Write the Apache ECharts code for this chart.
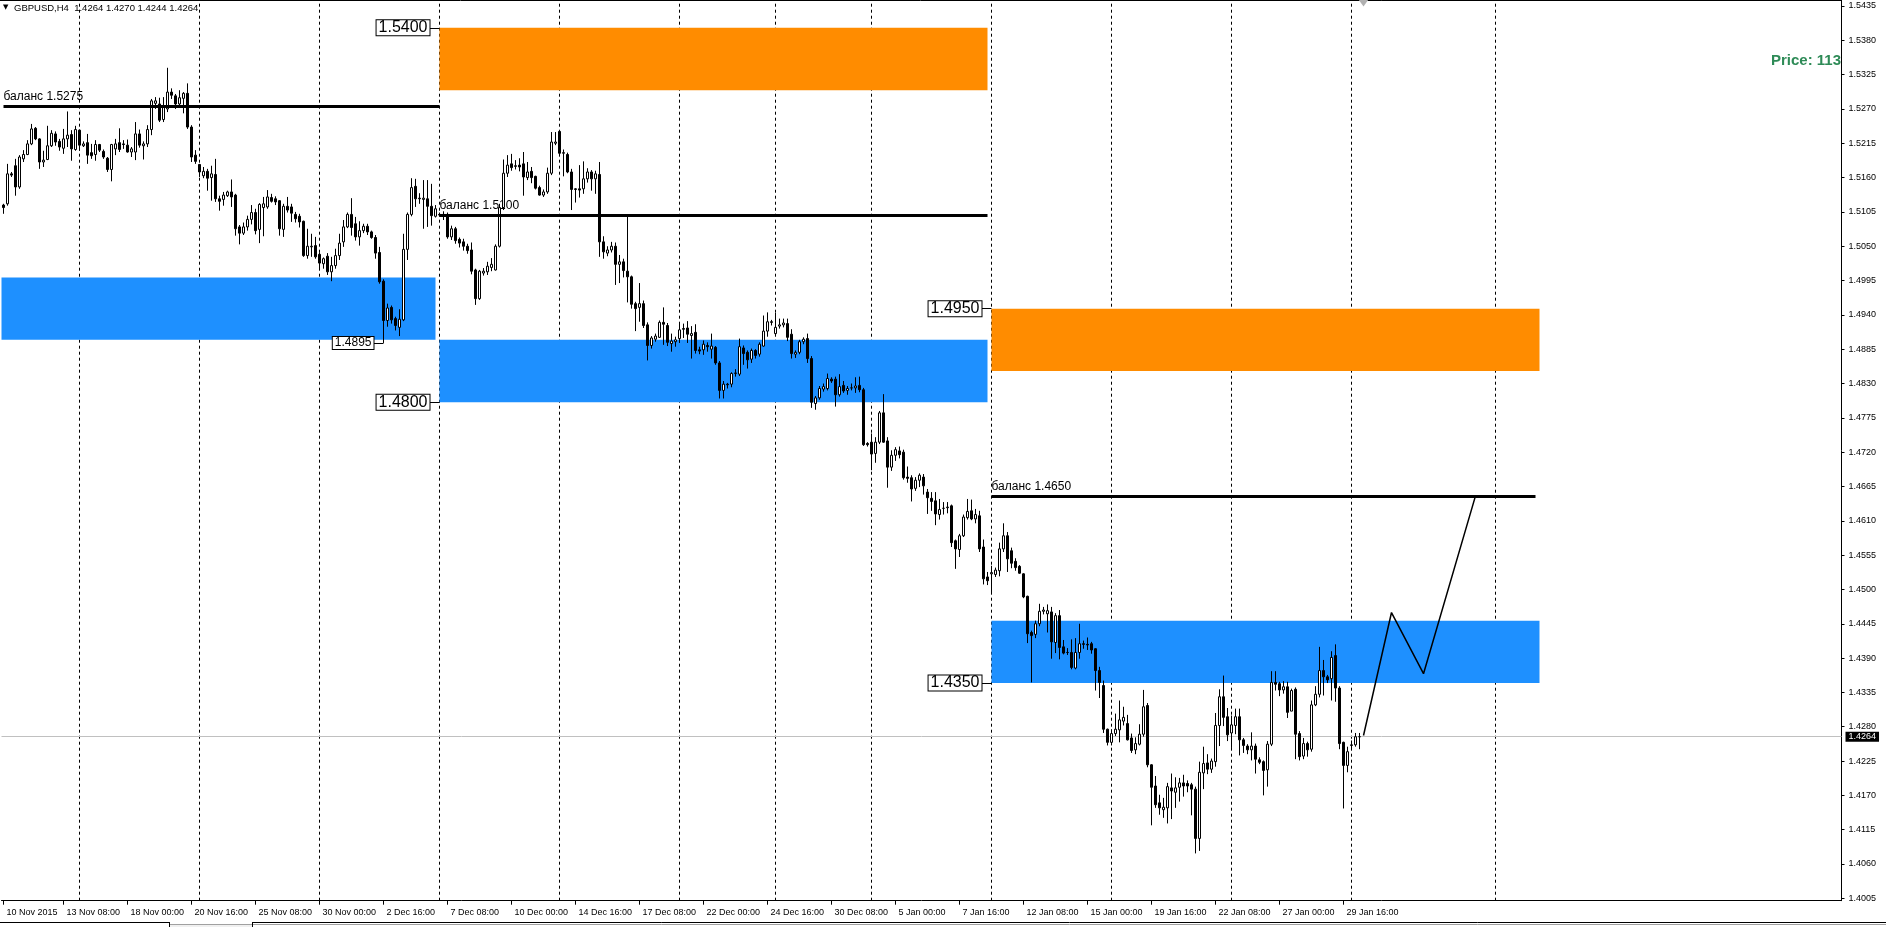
<!DOCTYPE html>
<html><head><meta charset="utf-8">
<script src="https://cdn.jsdelivr.net/npm/echarts@6/dist/echarts.min.js"></script>
<style>html,body{margin:0;padding:0;background:#fff}#c{width:1886px;height:927px}</style>
</head><body><div id="c"></div><script>
const FONT = '"Liberation Sans", Arial, sans-serif';
const Y_MIN = 1.40012, Y_MAX = 1.54446;
const yTicks = [1.4005,1.4060,1.4115,1.4170,1.4225,1.4280,1.4335,1.4390,1.4445,1.4500,1.4555,1.4610,1.4665,1.4720,1.4775,1.4830,1.4885,1.4940,1.4995,1.5050,1.5105,1.5160,1.5215,1.5270,1.5325,1.5380,1.5435];

const days = ['10 Nov','11 Nov','12 Nov','13 Nov','16 Nov','17 Nov','18 Nov','19 Nov','20 Nov','23 Nov','24 Nov','25 Nov','26 Nov','27 Nov','30 Nov','1 Dec','2 Dec','3 Dec','4 Dec','7 Dec','8 Dec','9 Dec','10 Dec','11 Dec','14 Dec','15 Dec','16 Dec','17 Dec','18 Dec','21 Dec','22 Dec','23 Dec','24 Dec','28 Dec','29 Dec','30 Dec','31 Dec','4 Jan','5 Jan','6 Jan','7 Jan','8 Jan','11 Jan','12 Jan','13 Jan','14 Jan','15 Jan','18 Jan','19 Jan','20 Jan','21 Jan','22 Jan','25 Jan','26 Jan','27 Jan','28 Jan','29 Jan','1 Feb'];
const hours = ['00:00','04:00','08:00','12:00','16:00','20:00'];
const FUTURE_BARS = 120;

const xTickCats = ['10 Nov 20:00','13 Nov 08:00','18 Nov 00:00','20 Nov 16:00','25 Nov 08:00','30 Nov 00:00','2 Dec 16:00','7 Dec 08:00','10 Dec 00:00','14 Dec 16:00','17 Dec 08:00','22 Dec 00:00','24 Dec 16:00','30 Dec 08:00','5 Jan 00:00','7 Jan 16:00','12 Jan 08:00','15 Jan 00:00','19 Jan 16:00','22 Jan 08:00','27 Jan 00:00','29 Jan 16:00'];
const xTickLabels = ['10 Nov 2015','13 Nov 08:00','18 Nov 00:00','20 Nov 16:00','25 Nov 08:00','30 Nov 00:00','2 Dec 16:00','7 Dec 08:00','10 Dec 00:00','14 Dec 16:00','17 Dec 08:00','22 Dec 00:00','24 Dec 16:00','30 Dec 08:00','5 Jan 00:00','7 Jan 16:00','12 Jan 08:00','15 Jan 00:00','19 Jan 16:00','22 Jan 08:00','27 Jan 00:00','29 Jan 16:00'];
const weekGridCats = ['16 Nov 00:00','23 Nov 00:00','30 Nov 00:00','7 Dec 00:00','14 Dec 00:00','21 Dec 00:00','28 Dec 00:00','4 Jan 00:00','11 Jan 00:00','18 Jan 00:00','25 Jan 00:00','1 Feb 00:00','+34'];

// [open, close, low, high]
const nov10 = [[1.5116,1.5112,1.5102,1.5118],[1.5118,1.5166,1.5115,1.5182],[1.5166,1.5164,1.5161,1.5169],[1.5179,1.5145,1.5131,1.5190],[1.5145,1.5193,1.5142,1.5196],[1.5190,1.5197,1.5185,1.5204],[1.5197,1.5214,1.5196,1.5220],[1.5214,1.5238,1.5212,1.5246],[1.5239,1.5222,1.5220,1.5241],[1.5222,1.5185,1.5174,1.5223],[1.5185,1.5188,1.5177,1.5203],[1.5189,1.5211,1.5188,1.5243],[1.5211,1.5231,1.5209,1.5236],[1.5230,1.5217,1.5211,1.5234],[1.5218,1.5209,1.5203,1.5222],[1.5207,1.5222,1.5198,1.5238],[1.5222,1.5228,1.5209,1.5266],[1.5229,1.5206,1.5187,1.5236],[1.5205,1.5237,1.5203,1.5243]];
const nov16 = [[1.5236,1.5212,1.5203,1.5237],[1.5211,1.5214,1.5209,1.5218],[1.5216,1.5196,1.5182,1.5230],[1.5200,1.5195,1.5190,1.5214],[1.5197,1.5213,1.5187,1.5220],[1.5213,1.5204,1.5201,1.5214],[1.5202,1.5193,1.5190,1.5205],[1.5191,1.5173,1.5169,1.5193],[1.5173,1.5213,1.5154,1.5214],[1.5206,1.5214,1.5196,1.5222],[1.5216,1.5205,1.5201,1.5239],[1.5214,1.5213,1.5206,1.5220],[1.5212,1.5201,1.5200,1.5221],[1.5201,1.5206,1.5193,1.5209],[1.5201,1.5230,1.5188,1.5249],[1.5230,1.5212,1.5208,1.5237],[1.5211,1.5214,1.5189,1.5218],[1.5214,1.5237,1.5209,1.5244],[1.5237,1.5283,1.5228,1.5286],[1.5279,1.5283,1.5270,1.5289],[1.5278,1.5252,1.5249,1.5288],[1.5253,1.5275,1.5249,1.5289],[1.5270,1.5297,1.5265,1.5336],[1.5297,1.5292,1.5286,1.5303],[1.5291,1.5278,1.5270,1.5294],[1.5278,1.5288,1.5276,1.5300],[1.5287,1.5295,1.5263,1.5297],[1.5295,1.5241,1.5238,1.5311],[1.5241,1.5193,1.5185,1.5244],[1.5196,1.5186,1.5182,1.5204]];
const nov23 = [[1.5181,1.5169,1.5161,1.5182],[1.5163,1.5170,1.5159,1.5177],[1.5170,1.5159,1.5139,1.5174],[1.5160,1.5166,1.5123,1.5179],[1.5165,1.5126,1.5121,1.5190],[1.5126,1.5122,1.5107,1.5131],[1.5125,1.5132,1.5115,1.5137],[1.5131,1.5137,1.5129,1.5139],[1.5137,1.5129,1.5113,1.5157],[1.5132,1.5078,1.5067,1.5134],[1.5081,1.5071,1.5053,1.5084],[1.5071,1.5081,1.5068,1.5088],[1.5081,1.5093,1.5075,1.5099],[1.5093,1.5104,1.5085,1.5116],[1.5104,1.5075,1.5069,1.5110],[1.5077,1.5117,1.5055,1.5119],[1.5112,1.5118,1.5066,1.5129],[1.5113,1.5129,1.5110,1.5140],[1.5128,1.5122,1.5120,1.5134],[1.5126,1.5121,1.5116,1.5130],[1.5123,1.5078,1.5067,1.5124],[1.5077,1.5114,1.5065,1.5118],[1.5114,1.5108,1.5104,1.5129],[1.5113,1.5103,1.5089,1.5118],[1.5101,1.5094,1.5088,1.5105],[1.5098,1.5089,1.5080,1.5102],[1.5090,1.5035,1.5033,1.5091],[1.5035,1.5050,1.5030,1.5078],[1.5049,1.5050,1.5033,1.5070],[1.5051,1.5033,1.5030,1.5065]];
const nov30 = [[1.5037,1.5023,1.5012,1.5040],[1.5022,1.5030,1.5014,1.5032],[1.5034,1.5009,1.5004,1.5039],[1.5009,1.5019,1.4994,1.5033],[1.5019,1.5035,1.5014,1.5046],[1.5035,1.5055,1.5028,1.5070],[1.5057,1.5081,1.5049,1.5092],[1.5081,1.5101,1.5079,1.5104],[1.5101,1.5080,1.5067,1.5127],[1.5086,1.5065,1.5059,1.5097],[1.5065,1.5075,1.5051,1.5090],[1.5075,1.5082,1.5071,1.5086],[1.5082,1.5073,1.5068,1.5086],[1.5073,1.5064,1.5062,1.5075],[1.5064,1.5039,1.5030,1.5068],[1.5040,1.4993,1.4990,1.5049],[1.4994,1.4931,1.4895,1.4997],[1.4931,1.4951,1.4921,1.4958],[1.4952,1.4932,1.4926,1.4955],[1.4934,1.4923,1.4915,1.4937],[1.4920,1.4933,1.4906,1.4949],[1.4932,1.5045,1.4930,1.5070],[1.5045,1.5101,1.5028,1.5104],[1.5101,1.5144,1.5098,1.5159],[1.5146,1.5126,1.5113,1.5158],[1.5127,1.5126,1.5118,1.5135],[1.5125,1.5127,1.5078,1.5156],[1.5126,1.5114,1.5081,1.5156],[1.5114,1.5099,1.5083,1.5150],[1.5098,1.5110,1.5096,1.5116]];
const dec07 = [[1.5101,1.5100,1.5098,1.5104],[1.5101,1.5099,1.5092,1.5106],[1.5101,1.5065,1.5062,1.5104],[1.5065,1.5078,1.5060,1.5083],[1.5078,1.5059,1.5054,1.5081],[1.5061,1.5055,1.5048,1.5064],[1.5057,1.5050,1.5043,1.5062],[1.5050,1.5043,1.5038,1.5054],[1.5044,1.5010,1.5005,1.5056],[1.5012,1.4966,1.4956,1.5014],[1.4966,1.5010,1.4964,1.5012],[1.5007,1.5010,1.5003,1.5015],[1.5009,1.5018,1.5004,1.5025],[1.5016,1.5021,1.5010,1.5031],[1.5012,1.5050,1.5011,1.5053],[1.5050,1.5112,1.5048,1.5118],[1.5112,1.5167,1.5108,1.5189],[1.5167,1.5180,1.5161,1.5196],[1.5182,1.5176,1.5171,1.5198],[1.5179,1.5178,1.5173,1.5188],[1.5180,1.5177,1.5170,1.5191],[1.5182,1.5161,1.5131,1.5201],[1.5160,1.5169,1.5156,1.5185],[1.5170,1.5160,1.5151,1.5177],[1.5162,1.5143,1.5141,1.5163],[1.5144,1.5132,1.5131,1.5147],[1.5132,1.5137,1.5129,1.5141],[1.5137,1.5167,1.5134,1.5176],[1.5167,1.5217,1.5164,1.5233],[1.5215,1.5217,1.5212,1.5233]];
const dec14 = [[1.5234,1.5199,1.5196,1.5236],[1.5199,1.5200,1.5162,1.5205],[1.5197,1.5169,1.5167,1.5200],[1.5169,1.5141,1.5108,1.5174],[1.5142,1.5141,1.5120,1.5143],[1.5142,1.5140,1.5128,1.5180],[1.5142,1.5158,1.5134,1.5186],[1.5158,1.5169,1.5152,1.5175],[1.5169,1.5158,1.5139,1.5172],[1.5158,1.5166,1.5134,1.5171],[1.5165,1.5057,1.5033,1.5185],[1.5057,1.5041,1.5030,1.5066],[1.5039,1.5044,1.5034,1.5050],[1.5044,1.5050,1.5040,1.5057],[1.5050,1.5021,1.4988,1.5056],[1.5021,1.5025,1.4991,1.5036],[1.5025,1.5011,1.5000,1.5030],[1.5010,1.5001,1.4960,1.5101],[1.5001,1.4957,1.4950,1.5003],[1.4958,1.4950,1.4914,1.4961],[1.4952,1.4958,1.4929,1.4991],[1.4958,1.4923,1.4919,1.4963],[1.4924,1.4891,1.4867,1.4928],[1.4891,1.4903,1.4886,1.4906],[1.4901,1.4906,1.4897,1.4910],[1.4904,1.4928,1.4903,1.4931],[1.4928,1.4925,1.4892,1.4952],[1.4923,1.4896,1.4890,1.4927],[1.4894,1.4898,1.4881,1.4910],[1.4897,1.4900,1.4889,1.4905]];
const dec21 = [[1.4902,1.4916,1.4895,1.4928],[1.4918,1.4917,1.4903,1.4926],[1.4919,1.4909,1.4895,1.4930],[1.4907,1.4910,1.4870,1.4922],[1.4912,1.4883,1.4878,1.4925],[1.4884,1.4882,1.4877,1.4889],[1.4884,1.4893,1.4876,1.4899],[1.4891,1.4889,1.4881,1.4896],[1.4885,1.4890,1.4870,1.4910],[1.4888,1.4863,1.4860,1.4890],[1.4863,1.4819,1.4806,1.4866],[1.4819,1.4829,1.4806,1.4834],[1.4829,1.4828,1.4822,1.4831],[1.4829,1.4846,1.4824,1.4848],[1.4846,1.4847,1.4841,1.4853],[1.4845,1.4889,1.4842,1.4902],[1.4887,1.4878,1.4860,1.4891],[1.4880,1.4868,1.4854,1.4883],[1.4869,1.4883,1.4863,1.4886],[1.4883,1.4875,1.4870,1.4885],[1.4877,1.4893,1.4873,1.4896],[1.4890,1.4914,1.4889,1.4939],[1.4914,1.4929,1.4905,1.4944],[1.4929,1.4928,1.4923,1.4932]];
const dec28 = [[1.4910,1.4920,1.4906,1.4943],[1.4922,1.4924,1.4918,1.4934],[1.4924,1.4927,1.4920,1.4934],[1.4926,1.4904,1.4898,1.4934],[1.4909,1.4878,1.4870,1.4917],[1.4877,1.4880,1.4871,1.4883],[1.4880,1.4897,1.4877,1.4900],[1.4897,1.4901,1.4893,1.4904],[1.4902,1.4870,1.4863,1.4910],[1.4870,1.4800,1.4791,1.4874],[1.4798,1.4807,1.4788,1.4810],[1.4807,1.4822,1.4804,1.4826],[1.4821,1.4825,1.4817,1.4830],[1.4822,1.4838,1.4819,1.4846],[1.4837,1.4834,1.4831,1.4840],[1.4837,1.4812,1.4793,1.4841],[1.4812,1.4825,1.4809,1.4845],[1.4827,1.4818,1.4815,1.4834],[1.4819,1.4822,1.4812,1.4826],[1.4823,1.4823,1.4819,1.4830],[1.4823,1.4826,1.4815,1.4840],[1.4827,1.4820,1.4816,1.4841],[1.4820,1.4732,1.4730,1.4823],[1.4734,1.4732,1.4729,1.4736]];
const jan04 = [[1.4736,1.4717,1.4691,1.4750],[1.4718,1.4736,1.4703,1.4744],[1.4736,1.4783,1.4733,1.4786],[1.4783,1.4736,1.4735,1.4813],[1.4738,1.4696,1.4663,1.4744],[1.4696,1.4715,1.4690,1.4723],[1.4715,1.4724,1.4706,1.4728],[1.4722,1.4716,1.4710,1.4729],[1.4720,1.4679,1.4676,1.4724],[1.4680,1.4678,1.4671,1.4697],[1.4679,1.4661,1.4641,1.4683],[1.4662,1.4675,1.4658,1.4680],[1.4675,1.4683,1.4664,1.4686],[1.4680,1.4666,1.4652,1.4685],[1.4656,1.4647,1.4621,1.4661],[1.4646,1.4641,1.4626,1.4656],[1.4642,1.4621,1.4603,1.4656],[1.4620,1.4628,1.4612,1.4645],[1.4630,1.4630,1.4620,1.4640],[1.4631,1.4632,1.4622,1.4640],[1.4634,1.4575,1.4568,1.4636],[1.4578,1.4565,1.4533,1.4580],[1.4564,1.4586,1.4552,1.4589],[1.4586,1.4616,1.4584,1.4620],[1.4615,1.4625,1.4612,1.4645],[1.4626,1.4613,1.4611,1.4644],[1.4613,1.4620,1.4606,1.4629],[1.4618,1.4565,1.4560,1.4626],[1.4568,1.4517,1.4508,1.4580],[1.4520,1.4514,1.4507,1.4528]];
const jan11 = [[1.4525,1.4527,1.4495,1.4538],[1.4524,1.4531,1.4520,1.4535],[1.4530,1.4565,1.4521,1.4575],[1.4565,1.4586,1.4560,1.4606],[1.4586,1.4549,1.4528,1.4592],[1.4562,1.4542,1.4534,1.4567],[1.4545,1.4535,1.4530,1.4550],[1.4537,1.4526,1.4525,1.4539],[1.4525,1.4488,1.4486,1.4526],[1.4489,1.4429,1.4414,1.4490],[1.4431,1.4426,1.4351,1.4434],[1.4428,1.4445,1.4422,1.4450],[1.4445,1.4465,1.4441,1.4477],[1.4465,1.4467,1.4460,1.4472],[1.4461,1.4466,1.4431,1.4476],[1.4464,1.4416,1.4389,1.4472],[1.4415,1.4458,1.4398,1.4462],[1.4458,1.4407,1.4388,1.4467],[1.4408,1.4398,1.4396,1.4419],[1.4399,1.4399,1.4395,1.4406],[1.4399,1.4375,1.4372,1.4420],[1.4374,1.4399,1.4372,1.4422],[1.4399,1.4413,1.4389,1.4445],[1.4413,1.4412,1.4405,1.4418],[1.4412,1.4411,1.4403,1.4423],[1.4413,1.4403,1.4397,1.4416],[1.4405,1.4370,1.4338,1.4406],[1.4370,1.4351,1.4326,1.4376],[1.4346,1.4276,1.4270,1.4354],[1.4276,1.4255,1.4250,1.4277]];
const jan18 = [[1.4255,1.4269,1.4250,1.4276],[1.4269,1.4276,1.4265,1.4301],[1.4275,1.4291,1.4255,1.4322],[1.4289,1.4295,1.4282,1.4312],[1.4285,1.4259,1.4258,1.4299],[1.4262,1.4242,1.4238,1.4269],[1.4243,1.4253,1.4236,1.4263],[1.4252,1.4268,1.4250,1.4284],[1.4268,1.4312,1.4264,1.4339],[1.4314,1.4219,1.4215,1.4318],[1.4219,1.4183,1.4122,1.4220],[1.4185,1.4155,1.4150,1.4201],[1.4158,1.4150,1.4139,1.4171],[1.4147,1.4151,1.4134,1.4166],[1.4150,1.4184,1.4125,1.4190],[1.4182,1.4177,1.4132,1.4205],[1.4175,1.4182,1.4150,1.4199],[1.4183,1.4190,1.4160,1.4198],[1.4190,1.4185,1.4168,1.4203],[1.4189,1.4185,1.4175,1.4194],[1.4187,1.4180,1.4138,1.4190],[1.4180,1.4101,1.4077,1.4184],[1.4101,1.4207,1.4081,1.4224],[1.4206,1.4221,1.4180,1.4248],[1.4222,1.4212,1.4204,1.4236],[1.4212,1.4225,1.4206,1.4229],[1.4224,1.4282,1.4216,1.4302],[1.4282,1.4328,1.4249,1.4340],[1.4328,1.4295,1.4281,1.4362],[1.4296,1.4267,1.4257,1.4310]];
const jan25 = [[1.4270,1.4283,1.4246,1.4298],[1.4282,1.4296,1.4268,1.4309],[1.4296,1.4259,1.4234,1.4309],[1.4259,1.4250,1.4238,1.4262],[1.4249,1.4243,1.4236,1.4252],[1.4243,1.4249,1.4226,1.4271],[1.4249,1.4228,1.4205,1.4253],[1.4227,1.4223,1.4220,1.4231],[1.4224,1.4210,1.4170,1.4226],[1.4211,1.4252,1.4184,1.4257],[1.4252,1.4351,1.4249,1.4369],[1.4351,1.4348,1.4338,1.4369],[1.4349,1.4339,1.4329,1.4352],[1.4339,1.4344,1.4333,1.4353],[1.4344,1.4303,1.4294,1.4352],[1.4305,1.4338,1.4305,1.4341],[1.4340,1.4268,1.4228,1.4343],[1.4269,1.4232,1.4226,1.4273],[1.4233,1.4253,1.4228,1.4262],[1.4253,1.4243,1.4232,1.4256],[1.4244,1.4315,1.4240,1.4322],[1.4315,1.4332,1.4313,1.4345],[1.4332,1.4370,1.4327,1.4408],[1.4370,1.4360,1.4330,1.4387],[1.4360,1.4355,1.4350,1.4363],[1.4357,1.4391,1.4322,1.4401],[1.4394,1.4342,1.4320,1.4412],[1.4342,1.4253,1.4244,1.4345],[1.4255,1.4218,1.4149,1.4256],[1.4218,1.4240,1.4207,1.4248]];
const feb01 = [[1.4250,1.4251,1.4245,1.4258],[1.4251,1.4264,1.4248,1.4270],[1.4264,1.4264,1.4244,1.4270]];

const BLUE = '#1e90ff', ORANGE = '#ff8c00';
const zones = [
  ['start', '4 Dec 20:00', 1.4900, 1.5000, BLUE],
  ['7 Dec 00:00', '8 Jan 20:00', 1.5300, 1.5400, ORANGE],
  ['7 Dec 00:00', '8 Jan 20:00', 1.4800, 1.4900, BLUE],
  ['11 Jan 00:00', '+45', 1.4850, 1.4950, ORANGE],
  ['11 Jan 00:00', '+45', 1.4350, 1.4450, BLUE]
];
const balances = [
  ['10 Nov 20:00', '7 Dec 00:00', 1.5275],
  ['7 Dec 00:00', '8 Jan 20:00', 1.5100],
  ['11 Jan 00:00', '+44', 1.4650]
];
const priceBoxes = [
  ['7 Dec 00:00', 1.5400, 16],
  ['7 Dec 00:00', 1.4800, 16],
  ['11 Jan 00:00', 1.4950, 16],
  ['11 Jan 00:00', 1.4350, 16],
  ['2 Dec 16:00', 1.4895, 12]
];
const zigzag = [['+1', 1.4266], ['+8', 1.4463], ['+16', 1.4365], ['+29', 1.4650]];
const lastPrice = 1.4264;
const header = 'GBPUSD,H4  1.4264 1.4270 1.4244 1.4264';
const priceNote = 'Price: 113';

// categories
const cats = [];
days.forEach((d, k) => {
  const hs = k === 0 ? ['20:00'] : (k === days.length - 1 ? hours.slice(0, 3) : hours);
  hs.forEach(h => cats.push(d + ' ' + h));
});
for (let k = 1; k <= FUTURE_BARS; k++) cats.push('+' + k);
const candles = [].concat(nov10, nov16, nov23, nov30, dec07, dec14, dec21, dec28, jan04, jan11, jan18, jan25, feb01);
const labelMap = {};
xTickCats.forEach((c, k) => labelMap[c] = xTickLabels[k]);
const xv = c => (c === 'start' ? -Infinity : c);

const chart = echarts.init(document.getElementById('c'), null, {renderer: 'canvas'});
chart.setOption({
  animation: false,
  backgroundColor: '#fff',
  title: [
    {text: '\u25BC', left: 3, top: 4, padding: 0, textStyle: {fontSize: 7, color: '#000', fontWeight: 'normal', fontFamily: '"DejaVu Sans", sans-serif'}},
    {text: header, left: 14, top: 3, padding: 0, textStyle: {fontSize: 9.5, color: '#000', fontWeight: 'normal', fontFamily: FONT}},
    {text: priceNote, right: 45, top: 53, padding: 0, textStyle: {fontSize: 15, color: '#2e8b57', fontWeight: 'bold', fontFamily: FONT}}
  ],
  grid: {left: 1.5, right: 44.5, top: 0, bottom: 26.3, containLabel: false, outerBoundsMode: 'none'},
  xAxis: {
    type: 'category', data: cats, boundaryGap: true,
    axisLine: {show: true, onZero: false, lineStyle: {color: '#000', width: 1}},
    axisTick: {show: true, alignWithLabel: true, length: 4, interval: (i, v) => v in labelMap, lineStyle: {color: '#000'}},
    axisLabel: {show: true, interval: (i, v) => v in labelMap, formatter: v => labelMap[v] || '', align: 'left', padding: [0, 0, 0, 3], margin: 7, fontSize: 9, color: '#000', fontFamily: FONT},
    splitLine: {show: false}
  },
  yAxis: {
    type: 'value', position: 'right', min: Y_MIN, max: Y_MAX,
    axisLine: {show: true, onZero: false, lineStyle: {color: '#000', width: 1}},
    axisTick: {show: true, length: 3, customValues: yTicks, lineStyle: {color: '#000'}},
    axisLabel: {show: true, customValues: yTicks, formatter: v => v.toFixed(4), margin: 7, fontSize: 9, color: '#000', fontFamily: FONT},
    splitLine: {show: false}
  },
  graphic: [
    {type: 'line', shape: {x1: 0, y1: 0.5, x2: 1841.5, y2: 0.5}, style: {stroke: '#000', lineWidth: 1}},
    {type: 'line', shape: {x1: 0, y1: 922.5, x2: 169, y2: 922.5}, style: {stroke: '#000', lineWidth: 1}},
    {type: 'line', shape: {x1: 169.5, y1: 922, x2: 169.5, y2: 927}, style: {stroke: '#000', lineWidth: 1}},
    {type: 'rect', shape: {x: 170, y: 925, width: 82, height: 2}, style: {fill: '#f0f0f0'}},
    {type: 'line', shape: {x1: 170, y1: 924.5, x2: 252, y2: 924.5}, style: {stroke: '#a0a0a0', lineWidth: 1}},
    {type: 'line', shape: {x1: 252.5, y1: 922, x2: 252.5, y2: 927}, style: {stroke: '#000', lineWidth: 1}},
    {type: 'line', shape: {x1: 253, y1: 922.5, x2: 1886, y2: 922.5}, style: {stroke: '#000', lineWidth: 1}},
    {type: 'line', shape: {x1: 253, y1: 924.5, x2: 1886, y2: 924.5}, style: {stroke: '#a0a0a0', lineWidth: 1}}
  ],
  series: [
    { // weekly grid
      type: 'line', data: [], silent: true,
      markLine: {z: 0, silent: true, symbol: ['none', 'none'], label: {show: false},
        lineStyle: {color: '#000', width: 1, type: [3, 3]},
        data: weekGridCats.map(c => ({xAxis: c}))}
    },
    { // zones
      type: 'line', data: [], silent: true,
      markArea: {z: 1, silent: true, label: {show: false},
        data: zones.map(z => [{coord: [xv(z[0]), z[3]], itemStyle: {color: z[4], opacity: 1}}, {coord: [z[1], z[2]]}])}
    },
    { // last price line
      type: 'line', data: [], silent: true,
      markLine: {z: 1.5, silent: true, precision: 4, symbol: ['none', 'none'],
        lineStyle: {color: '#c0c0c0', width: 1, type: 'solid'},
        label: {show: true, position: 'end', distance: 4, formatter: lastPrice.toFixed(4), color: '#fff', backgroundColor: '#000', padding: [1, 3, 0, 3], fontSize: 9, fontFamily: FONT},
        data: [{yAxis: lastPrice}]}
    },
    {
      type: 'candlestick', data: candles, barWidth: 2, z: 2, silent: true,
      itemStyle: {color: '#fff', color0: '#000', borderColor: '#000', borderColor0: '#000', borderColorDoji: '#000', borderWidth: 1}
    },
    { // balance lines
      type: 'line', data: [], silent: true,
      markLine: {z: 5, silent: true, precision: 4, symbol: ['none', 'none'],
        lineStyle: {color: '#000', width: 3, type: 'solid'},
        label: {show: true, position: 'insideStartTop', distance: [0, 3], formatter: p => p.name, color: '#000', fontSize: 12, fontFamily: FONT},
        data: balances.map(b => [{name: '\u0431\u0430\u043b\u0430\u043d\u0441 ' + b[2].toFixed(4), coord: [b[0], b[2]]}, {coord: [b[1], b[2]]}])
          .concat(priceBoxes.map(p => {
            const i = cats.indexOf(p[0]);
            return [{name: '', coord: [i - 3, p[1]], lineStyle: {width: 1}, label: {show: false}}, {coord: [i, p[1]]}];
          }))
      }
    },
    { // projection
      type: 'line', data: zigzag, z: 6, silent: true, symbol: 'none',
      lineStyle: {color: '#000', width: 1.5},
      markPoint: {z: 7, silent: true,
        data: priceBoxes.map(p => ({
          coord: [p[0], p[1]], symbol: 'circle', symbolSize: 0,
          label: {show: true, position: 'left', distance: 10, formatter: p[1].toFixed(4), color: '#000', fontSize: p[2], lineHeight: p[2] === 16 ? 14 : 11, fontFamily: FONT, backgroundColor: '#fff', borderColor: '#000', borderWidth: 1, padding: [1, 2, 0, 2]}
        })).concat([{coord: ['+1', Y_MAX], symbol: 'triangle', symbolRotate: 180, symbolSize: [10, 7], symbolOffset: [0, 3], itemStyle: {color: '#b0b0b0'}, label: {show: false}}])
      }
    }
  ]
});
</script></body></html>
